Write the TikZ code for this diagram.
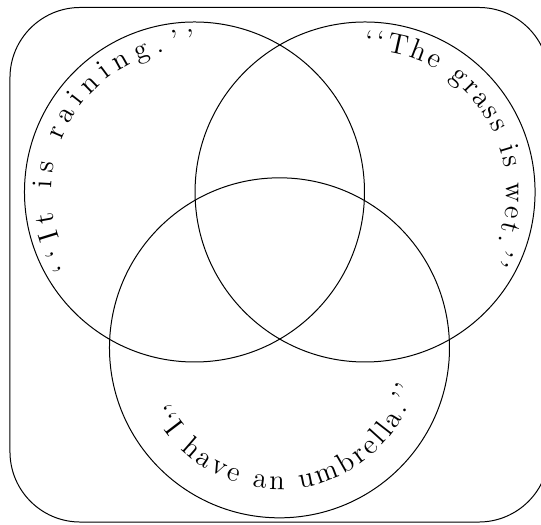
\documentclass[tikz,border=0pt]{standalone}
\usepackage{fontspec}
\usetikzlibrary{decorations.text}
\tikzset{
  setc/.style={line width=0.5pt},
  arctext/.style={decorate, decoration={text along path, text align={fit to path},
                  text={|\Large|#1}}},
}
\begin{document}
\begin{tikzpicture}
  \useasboundingbox (-3.432,-5.876) rectangle (6.115,3.388);
  \coordinate (rain) at (0,0);
  \coordinate (wet)  at (3.01,0);
  \coordinate (umb)  at (1.5,-2.75);
  % universe
  \draw[setc, rounded corners=1.24cm] (-3.256,3.256) rectangle (6.256,-5.824);
  % the three sets
  \draw[setc] (rain) circle[radius=3];
  \draw[setc] (wet)  circle[radius=3];
  \draw[setc] (umb)  circle[radius=3];
  % labels along the circles
  \path[arctext={``It is raining.''}] ([shift={(211:2.52)}]rain) arc[start angle=211, end angle=90, radius=2.52];
  \path[arctext={``The grass is wet.''}] ([shift={(90:2.5)}]wet) arc[start angle=90, end angle=-29, radius=2.5];
  \path[arctext={``I have an umbrella.''}] ([shift={(206.5:2.5)}]umb) arc[start angle=206.5, end angle=344, radius=2.5];
\end{tikzpicture}
\end{document}
